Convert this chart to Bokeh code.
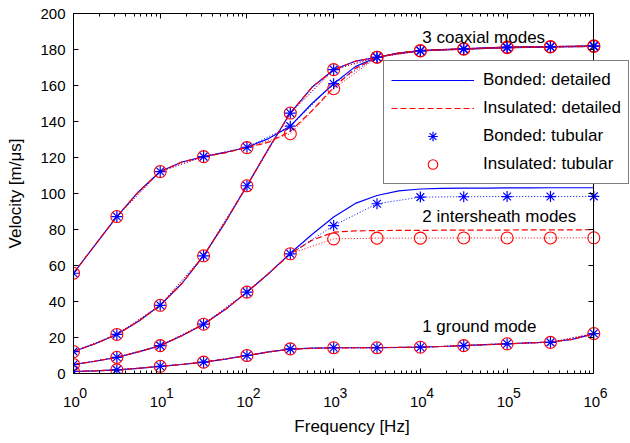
from bokeh.plotting import figure
from bokeh.models import (LogAxis, LinearAxis, FixedTicker, Range1d, Legend, LegendItem, Label)
from bokeh.embed import file_html
from bokeh.resources import INLINE

# ---------------- data ----------------
# frequencies of the tubular-model markers (half-decade steps)
freq_tub = [1, 3.162, 10, 31.62, 100, 316.2, 1000, 3162, 1e4, 31623, 1e5, 316228, 1e6]
# frequencies of the detailed-model curves (quarter-decade steps)
freq_det = [1, 1.778, 3.162, 5.623, 10, 17.78, 31.62, 56.23, 100, 177.8, 316.2, 562.3,
            1000, 1778, 3162, 5623, 1e4, 17783, 31623, 56234, 1e5, 177828, 316228, 562341, 1e6]

# detailed model, bonded (solid blue) and insulated (dashed red)
coax1_bonded_det = [55.7, 71.5, 87.2, 101.0, 112.2, 117.5, 120.5, 122.8, 125.7, 130.5, 137.4, 150.0,
                    161.0, 170.5, 175.7, 178.0, 179.4, 180.0, 180.4, 180.9, 181.3, 181.5, 181.6, 181.8, 182.0]
coax1_insul_det = [55.7, 71.5, 87.2, 101.0, 112.2, 117.5, 120.3, 122.6, 125.5, 128.5, 134.5, 146.0,
                   159.0, 169.5, 175.5, 178.0, 179.4, 180.0, 180.4, 180.9, 181.3, 181.5, 181.6, 181.8, 182.0]
coax2_bonded_det = [12.2, 16.5, 21.7, 29.0, 37.9, 50.0, 65.4, 84.0, 104.3, 125.0, 144.7, 159.0,
                    168.8, 173.5, 175.7, 178.0, 179.2, 179.8, 180.2, 180.6, 181.0, 181.2, 181.4, 181.6, 181.7]
coax2_insul_det = [12.2, 16.5, 21.7, 29.0, 37.9, 50.0, 65.4, 84.0, 104.3, 125.0, 144.7, 159.0,
                   168.8, 173.5, 175.7, 178.0, 179.2, 179.8, 180.2, 180.6, 181.0, 181.2, 181.4, 181.6, 181.7]
inter_bonded_det = [5.0, 6.8, 9.0, 12.0, 15.5, 21.0, 27.4, 35.5, 45.2, 55.5, 66.8, 77.2,
                    86.9, 94.5, 98.9, 101.5, 102.5, 102.8, 103.0, 103.0, 103.1, 103.1, 103.2, 103.2, 103.2]
inter_insul_det = [5.0, 6.8, 9.0, 12.0, 15.5, 21.0, 27.4, 35.5, 45.2, 55.5, 66.5, 74.0,
                   78.5, 79.2, 79.4, 79.5, 79.5, 79.6, 79.6, 79.7, 79.7, 79.8, 79.8, 79.8, 79.9]
ground_bonded_det = [1.1, 1.5, 2.0, 2.9, 4.0, 5.0, 6.3, 8.0, 10.0, 12.0, 13.5, 14.1,
                     14.3, 14.3, 14.4, 14.5, 14.7, 15.0, 15.5, 16.0, 16.5, 17.0, 17.5, 19.0, 22.0]
ground_insul_det = [1.1, 1.5, 2.0, 2.9, 4.0, 5.0, 6.3, 8.0, 10.0, 12.0, 13.4, 14.0,
                    14.2, 14.3, 14.4, 14.5, 14.7, 15.0, 15.5, 16.0, 16.5, 17.0, 17.5, 19.0, 22.0]

# tubular model, bonded (blue asterisks) and insulated (red circles)
coax1_bonded_tub = [55.7, 87.2, 112.2, 120.5, 125.7, 137.4, 161.0, 175.7, 179.4, 180.4, 181.3, 181.6, 182.0]
coax1_insul_tub = [55.7, 87.2, 112.2, 120.5, 125.5, 133.2, 158.2, 175.7, 179.4, 180.4, 181.3, 181.6, 182.0]
coax2_bonded_tub = [12.2, 21.7, 37.9, 65.4, 104.3, 144.7, 168.8, 175.7, 179.2, 180.2, 181.0, 181.4, 181.7]
coax2_insul_tub = [12.2, 21.7, 37.9, 65.4, 104.3, 144.7, 168.8, 175.7, 179.2, 180.2, 181.0, 181.4, 181.7]
inter_bonded_tub = [5.0, 9.0, 15.5, 27.4, 45.2, 66.5, 82.2, 94.3, 98.0, 98.2, 98.3, 98.3, 98.4]
inter_insul_tub = [5.0, 9.0, 15.5, 27.4, 45.2, 66.5, 74.8, 75.2, 75.2, 75.3, 75.3, 75.3, 75.4]
ground_bonded_tub = [1.1, 2.0, 4.0, 6.3, 10.0, 13.7, 14.3, 14.3, 14.6, 15.5, 16.5, 17.3, 22.2]
ground_insul_tub = [1.1, 2.0, 4.0, 6.3, 10.0, 13.7, 14.3, 14.3, 14.6, 15.5, 16.5, 17.3, 22.2]

# axis ticks
x_major = [1, 10, 100, 1000, 1e4, 1e5, 1e6]
x_exponents = ["0", "1", "2", "3", "4", "5", "6"]
x_minor = [m * d for d in [1, 10, 100, 1000, 1e4, 1e5] for m in range(2, 10)]
y_ticks = [0, 20, 40, 60, 80, 100, 120, 140, 160, 180, 200]

legend_labels = ["Bonded: detailed", "Insulated: detailed", "Bonded: tubular", "Insulated: tubular"]
mode_labels = ["3 coaxial modes", "2 intersheath modes", "1 ground mode"]

# ---------------- figure ----------------
FONT = "Liberation Sans"
NB = "\u00a0"
BLUE = "#0000ff"
RED = "#ff0000"
# the frame runs to the right edge so the legend can overhang the box; the
# box itself ends at 1e6
p = figure(width=630, height=443, x_axis_type="log",
           x_range=Range1d(1, 10 ** 6.423), y_range=Range1d(0, 200),
           output_backend="svg", toolbar_location=None,
           min_border_left=73, min_border_right=0, min_border_top=13, min_border_bottom=70)
p.xgrid.visible = False
p.ygrid.visible = False
p.outline_line_color = None
p.background_fill_color = "white"
p.border_fill_color = "white"


def style_axis(ax):
    ax.axis_line_color = "black"
    ax.axis_line_width = 1
    ax.major_tick_line_color = "black"
    ax.minor_tick_line_color = "black"
    ax.major_tick_in = 5
    ax.major_tick_out = 0
    ax.minor_tick_in = 3
    ax.minor_tick_out = 0
    ax.major_label_text_font = FONT
    ax.major_label_text_color = "black"
    ax.axis_label_text_font = FONT
    ax.axis_label_text_font_style = "normal"
    ax.axis_label_text_color = "black"
    ax.axis_label_text_font_size = "17px"


def hide_labels(ax, ticks):
    ax.major_label_overrides = {t: "" for t in ticks}
    ax.major_label_standoff = 0


xt = FixedTicker(ticks=x_major, minor_ticks=x_minor)
yt = FixedTicker(ticks=y_ticks, minor_ticks=[])

# bottom axis: line, ticks and the raised exponents
xax = p.xaxis[0]
xax.ticker = xt
style_axis(xax)
xax.bounds = (1, 1e6)
xax.major_label_overrides = {t: NB * 5 + e for t, e in zip(x_major, x_exponents)}
xax.major_label_text_font_size = "14px"
xax.major_label_standoff = 11

# second bottom axis: the "10" bases and the axis title (no line, no ticks)
xbase = LogAxis(ticker=FixedTicker(ticks=x_major, minor_ticks=[]))
style_axis(xbase)
xbase.axis_line_alpha = 0
xbase.major_tick_line_alpha = 0
xbase.minor_tick_line_alpha = 0
xbase.major_tick_in = 0
xbase.minor_tick_in = 0
xbase.major_label_overrides = {t: "10" + NB for t in x_major}
xbase.major_label_text_font_size = "15px"
xbase.major_label_standoff = -11
xbase.axis_label = "Frequency [Hz]"
xbase.axis_label_standoff = 4
p.add_layout(xbase, "below")

yax = p.yaxis[0]
yax.ticker = yt
style_axis(yax)
yax.major_label_text_font_size = "15px"
yax.major_label_standoff = 8
yax.axis_label = "Velocity [m/\u03bcs]"
yax.axis_label_standoff = 12

top = LogAxis(ticker=xt)
style_axis(top)
hide_labels(top, x_major)
top.bounds = (1, 1e6)
p.add_layout(top, "above")

# right edge of the box at x = 1e6, ticks pointing into the box
right = LinearAxis(ticker=yt, fixed_location=1e6)
style_axis(right)
hide_labels(right, y_ticks)
right.major_tick_in = 0
right.major_tick_out = 5
p.add_layout(right, "left")

# ---------------- curves ----------------
det_b = [coax1_bonded_det, coax2_bonded_det, inter_bonded_det, ground_bonded_det]
det_i = [coax1_insul_det, coax2_insul_det, inter_insul_det, ground_insul_det]
tub_b = [coax1_bonded_tub, coax2_bonded_tub, inter_bonded_tub, ground_bonded_tub]
tub_i = [coax1_insul_tub, coax2_insul_tub, inter_insul_tub, ground_insul_tub]

solid_rs, dash_rs = [], []
for yb in det_b:
    solid_rs.append(p.line(freq_det, yb, line_color=BLUE, line_width=1.2))
for yi in det_i:
    dash_rs.append(p.line(freq_det, yi, line_color=RED, line_width=1.2, line_dash="6 3"))
for yb in tub_b:
    p.line(freq_tub, yb, line_color=BLUE, line_width=1, line_dash="1 2")
for yi in tub_i:
    p.line(freq_tub, yi, line_color=RED, line_width=1, line_dash="1 2")
circ_rs, star_rs = [], []
for yi in tub_i:
    circ_rs.append(p.scatter(freq_tub, yi, marker="circle", size=12, fill_color=None,
                             line_color=RED, line_width=1.1))
for yb in tub_b:
    star_rs.append(p.scatter(freq_tub, yb, marker="asterisk", size=11,
                             line_color=BLUE, line_width=1.2))

# ---------------- texts ----------------
for txt, lx, ly in [(mode_labels[0], 10 ** 4.73, 186.5),
                    (mode_labels[1], 10 ** 4.91, 87.0),
                    (mode_labels[2], 10 ** 4.68, 26.0)]:
    p.add_layout(Label(x=lx, y=ly, text=txt, text_align="center", text_baseline="alphabetic",
                       text_font=FONT, text_font_size="17px", text_color="black"))

legend = Legend(items=[LegendItem(label=legend_labels[0], renderers=[solid_rs[0]]),
                       LegendItem(label=legend_labels[1], renderers=[dash_rs[0]]),
                       LegendItem(label=legend_labels[2], renderers=[star_rs[0]]),
                       LegendItem(label=legend_labels[3], renderers=[circ_rs[0]])],
                location=(310, 189), padding=7, spacing=4, margin=0,
                glyph_width=83, glyph_height=24, label_height=24, label_standoff=9,
                label_text_font=FONT, label_text_font_size="17px", label_text_color="black",
                border_line_color="black", border_line_width=1,
                background_fill_color="white", background_fill_alpha=1.0)
p.add_layout(legend)

open("out.html", "w").write(file_html(p, INLINE))
